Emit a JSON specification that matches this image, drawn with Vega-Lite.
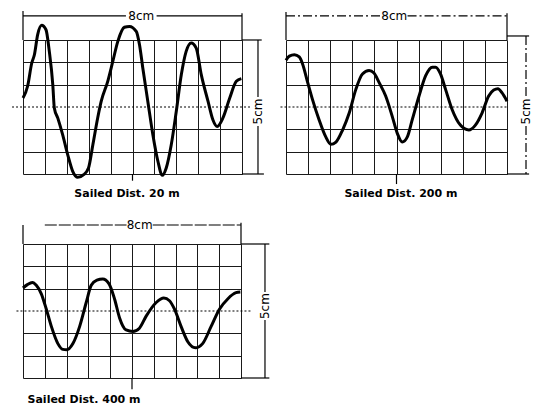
{
  "$schema": "https://vega.github.io/schema/vega-lite/v6.json",
  "background": "white",
  "padding": {"left": 11, "top": 9, "right": 0, "bottom": 0},
  "bounds": "flush",
  "columns": 2,
  "spacing": {"row": 70, "column": 44},
  "config": {
    "view": {"stroke": null},
    "axis": {"labels": false, "ticks": false, "domain": false, "grid": true, "gridColor": "#1a1a1a", "gridWidth": 1, "gridOpacity": 1},
    "text": {"font": "DejaVu Sans", "color": "black"}
  },
  "datasets": {
    "waves": [
      {"panel": 1, "x": 0, "y": 0.4}, {"panel": 1, "x": 0.21, "y": 0.93}, {"panel": 1, "x": 0.4, "y": 1.97}, {"panel": 1, "x": 0.52, "y": 2.34},
      {"panel": 1, "x": 0.67, "y": 3.24}, {"panel": 1, "x": 0.85, "y": 3.66}, {"panel": 1, "x": 1.05, "y": 3.46}, {"panel": 1, "x": 1.2, "y": 2.5},
      {"panel": 1, "x": 1.36, "y": 1.0}, {"panel": 1, "x": 1.43, "y": -0.04}, {"panel": 1, "x": 1.59, "y": -0.5}, {"panel": 1, "x": 1.81, "y": -1.24},
      {"panel": 1, "x": 2.04, "y": -2.13}, {"panel": 1, "x": 2.27, "y": -2.88}, {"panel": 1, "x": 2.5, "y": -3.15}, {"panel": 1, "x": 2.77, "y": -3.03},
      {"panel": 1, "x": 2.99, "y": -2.73}, {"panel": 1, "x": 3.19, "y": -1.69}, {"panel": 1, "x": 3.41, "y": -0.49}, {"panel": 1, "x": 3.57, "y": 0.25},
      {"panel": 1, "x": 3.87, "y": 1.15}, {"panel": 1, "x": 4.1, "y": 2.04}, {"panel": 1, "x": 4.33, "y": 2.94}, {"panel": 1, "x": 4.63, "y": 3.57},
      {"panel": 1, "x": 4.86, "y": 3.61}, {"panel": 1, "x": 5.17, "y": 3.39}, {"panel": 1, "x": 5.32, "y": 2.79}, {"panel": 1, "x": 5.47, "y": 1.75},
      {"panel": 1, "x": 5.7, "y": 0.25}, {"panel": 1, "x": 5.93, "y": -1.24}, {"panel": 1, "x": 6.16, "y": -2.43}, {"panel": 1, "x": 6.36, "y": -3.06},
      {"panel": 1, "x": 6.54, "y": -2.73}, {"panel": 1, "x": 6.77, "y": -1.69}, {"panel": 1, "x": 7.0, "y": -0.19}, {"panel": 1, "x": 7.23, "y": 1.45},
      {"panel": 1, "x": 7.45, "y": 2.49}, {"panel": 1, "x": 7.68, "y": 2.87}, {"panel": 1, "x": 7.91, "y": 2.64}, {"panel": 1, "x": 8.14, "y": 1.45},
      {"panel": 1, "x": 8.45, "y": 0.25}, {"panel": 1, "x": 8.67, "y": -0.57}, {"panel": 1, "x": 8.87, "y": -0.87}, {"panel": 1, "x": 9.13, "y": -0.49},
      {"panel": 1, "x": 9.44, "y": 0.4}, {"panel": 1, "x": 9.74, "y": 1.15}, {"panel": 1, "x": 9.97, "y": 1.27},

      {"panel": 2, "x": 0, "y": 2.09}, {"panel": 2, "x": 0.15, "y": 2.28}, {"panel": 2, "x": 0.38, "y": 2.34}, {"panel": 2, "x": 0.6, "y": 2.24},
      {"panel": 2, "x": 0.75, "y": 1.93}, {"panel": 2, "x": 0.98, "y": 1.1}, {"panel": 2, "x": 1.2, "y": 0.33}, {"panel": 2, "x": 1.5, "y": -0.58},
      {"panel": 2, "x": 1.8, "y": -1.34}, {"panel": 2, "x": 2.03, "y": -1.67}, {"panel": 2, "x": 2.26, "y": -1.57}, {"panel": 2, "x": 2.56, "y": -1.03},
      {"panel": 2, "x": 2.86, "y": -0.27}, {"panel": 2, "x": 3.16, "y": 0.79}, {"panel": 2, "x": 3.46, "y": 1.48}, {"panel": 2, "x": 3.76, "y": 1.63},
      {"panel": 2, "x": 3.98, "y": 1.52}, {"panel": 2, "x": 4.21, "y": 1.1}, {"panel": 2, "x": 4.51, "y": 0.49}, {"panel": 2, "x": 4.81, "y": -0.43},
      {"panel": 2, "x": 5.04, "y": -1.19}, {"panel": 2, "x": 5.26, "y": -1.57}, {"panel": 2, "x": 5.49, "y": -1.34}, {"panel": 2, "x": 5.71, "y": -0.58},
      {"panel": 2, "x": 6.02, "y": 0.49}, {"panel": 2, "x": 6.32, "y": 1.4}, {"panel": 2, "x": 6.62, "y": 1.78}, {"panel": 2, "x": 6.77, "y": 1.78},
      {"panel": 2, "x": 6.99, "y": 1.48}, {"panel": 2, "x": 7.22, "y": 0.79}, {"panel": 2, "x": 7.52, "y": -0.12}, {"panel": 2, "x": 7.89, "y": -0.81},
      {"panel": 2, "x": 8.27, "y": -1.03}, {"panel": 2, "x": 8.57, "y": -0.81}, {"panel": 2, "x": 8.87, "y": -0.27}, {"panel": 2, "x": 9.17, "y": 0.49},
      {"panel": 2, "x": 9.4, "y": 0.76}, {"panel": 2, "x": 9.59, "y": 0.82}, {"panel": 2, "x": 9.77, "y": 0.64}, {"panel": 2, "x": 10, "y": 0.26},

      {"panel": 3, "x": 0, "y": 1.03}, {"panel": 3, "x": 0.2, "y": 1.18}, {"panel": 3, "x": 0.43, "y": 1.28}, {"panel": 3, "x": 0.61, "y": 1.15},
      {"panel": 3, "x": 0.84, "y": 0.77}, {"panel": 3, "x": 1.07, "y": 0.08}, {"panel": 3, "x": 1.3, "y": -0.69}, {"panel": 3, "x": 1.6, "y": -1.46},
      {"panel": 3, "x": 1.83, "y": -1.72}, {"panel": 3, "x": 2.0, "y": -1.74}, {"panel": 3, "x": 2.29, "y": -1.46}, {"panel": 3, "x": 2.6, "y": -0.69},
      {"panel": 3, "x": 2.9, "y": 0.38}, {"panel": 3, "x": 3.13, "y": 1.15}, {"panel": 3, "x": 3.39, "y": 1.38}, {"panel": 3, "x": 3.66, "y": 1.43},
      {"panel": 3, "x": 3.94, "y": 1.23}, {"panel": 3, "x": 4.2, "y": 0.54}, {"panel": 3, "x": 4.43, "y": -0.31}, {"panel": 3, "x": 4.73, "y": -0.85},
      {"panel": 3, "x": 5.04, "y": -0.92}, {"panel": 3, "x": 5.34, "y": -0.77}, {"panel": 3, "x": 5.65, "y": -0.23}, {"panel": 3, "x": 6.11, "y": 0.38},
      {"panel": 3, "x": 6.46, "y": 0.58}, {"panel": 3, "x": 6.72, "y": 0.46}, {"panel": 3, "x": 6.95, "y": 0.08}, {"panel": 3, "x": 7.25, "y": -0.69},
      {"panel": 3, "x": 7.56, "y": -1.38}, {"panel": 3, "x": 7.91, "y": -1.65}, {"panel": 3, "x": 8.24, "y": -1.46}, {"panel": 3, "x": 8.63, "y": -0.69},
      {"panel": 3, "x": 9.01, "y": 0.08}, {"panel": 3, "x": 9.39, "y": 0.54}, {"panel": 3, "x": 9.77, "y": 0.82}, {"panel": 3, "x": 9.97, "y": 0.85}
    ],
    "segs": [
      {"panel": 1, "kind": "solid", "x": 0, "x2": 0, "y": 3, "y2": 4.3},
      {"panel": 1, "kind": "solid", "x": 10, "x2": 10, "y": 3, "y2": 4.2},
      {"panel": 1, "kind": "solid", "x": 10, "x2": 10.9, "y": 3, "y2": 3},
      {"panel": 1, "kind": "solid", "x": 10, "x2": 11.0, "y": -3, "y2": -3},
      {"panel": 1, "kind": "solid", "x": 10.73, "x2": 10.73, "y": 3, "y2": 0.45},
      {"panel": 1, "kind": "solid", "x": 10.73, "x2": 10.73, "y": -0.85, "y2": -3},
      {"panel": 1, "kind": "solid", "x": 5, "x2": 5, "y": -3, "y2": -3.3},
      {"panel": 1, "kind": "solid", "x": 0, "x2": 4.7, "y": 4.08, "y2": 4.08},
      {"panel": 1, "kind": "solid", "x": 6.1, "x2": 10, "y": 4.08, "y2": 4.08},
      {"panel": 1, "kind": "dot", "x": -0.5, "x2": 10.4, "y": 0, "y2": 0},

      {"panel": 2, "kind": "solid", "x": 0, "x2": 0, "y": 3, "y2": 4.25},
      {"panel": 2, "kind": "solid", "x": 10, "x2": 10, "y": 3, "y2": 4.2},
      {"panel": 2, "kind": "solid", "x": 10, "x2": 11.0, "y": 3.18, "y2": 3.18},
      {"panel": 2, "kind": "solid", "x": 10, "x2": 11.0, "y": -3, "y2": -3},
      {"panel": 2, "kind": "solid", "x": 5, "x2": 5, "y": -3, "y2": -3.45},
      {"panel": 2, "kind": "dash", "x": 0, "x2": 4.3, "y": 4.08, "y2": 4.08},
      {"panel": 2, "kind": "dash", "x": 5.5, "x2": 10, "y": 4.08, "y2": 4.08},
      {"panel": 2, "kind": "dash", "x": 10.86, "x2": 10.86, "y": 3.18, "y2": 0.45},
      {"panel": 2, "kind": "dash", "x": 10.86, "x2": 10.86, "y": -0.85, "y2": -3},
      {"panel": 2, "kind": "dot", "x": -0.25, "x2": 10, "y": 0, "y2": 0},

      {"panel": 3, "kind": "solid", "x": 0, "x2": 0, "y": 3, "y2": 3.85},
      {"panel": 3, "kind": "solid", "x": 10, "x2": 10, "y": 3, "y2": 3.95},
      {"panel": 3, "kind": "solid", "x": 10, "x2": 11.3, "y": 3, "y2": 3},
      {"panel": 3, "kind": "solid", "x": 10, "x2": 11.3, "y": -3, "y2": -3},
      {"panel": 3, "kind": "solid", "x": 11.1, "x2": 11.1, "y": 3, "y2": 0.85},
      {"panel": 3, "kind": "solid", "x": 11.1, "x2": 11.1, "y": -0.4, "y2": -3},
      {"panel": 3, "kind": "solid", "x": 5, "x2": 5, "y": -3, "y2": -3.5},
      {"panel": 3, "kind": "dash", "x": 1.0, "x2": 4.75, "y": 3.85, "y2": 3.85},
      {"panel": 3, "kind": "dash", "x": 5.95, "x2": 10, "y": 3.85, "y2": 3.85},
      {"panel": 3, "kind": "dot", "x": -0.3, "x2": 10.45, "y": 0, "y2": 0}
    ],
    "labels": [
      {"panel": 1, "kind": "dim", "text": "8cm", "x": 5.4, "y": 4.08},
      {"panel": 1, "kind": "dimv", "text": "5cm", "x": 10.73, "y": -0.2},
      {"panel": 1, "kind": "title", "text": "Sailed  Dist. 20 m", "x": 4.75, "y": -3.9},
      {"panel": 2, "kind": "dim", "text": "8cm", "x": 4.9, "y": 4.08},
      {"panel": 2, "kind": "dimv", "text": "5cm", "x": 10.86, "y": -0.2},
      {"panel": 2, "kind": "title", "text": "Sailed  Dist. 200 m", "x": 5.2, "y": -3.9},
      {"panel": 3, "kind": "dim", "text": "8cm", "x": 5.35, "y": 3.85},
      {"panel": 3, "kind": "dimv", "text": "5cm", "x": 11.1, "y": 0.22},
      {"panel": 3, "kind": "title", "text": "Sailed  Dist. 400 m", "x": 2.8, "y": -4.0}
    ]
  },
  "concat": [
    {
      "width": 219, "height": 134,
      "layer": [
        {"data": {"name": "waves"}, "transform": [{"filter": "datum.panel == 1"}],
         "mark": {"type": "line", "interpolate": "monotone", "strokeWidth": 3, "color": "black"},
         "encoding": {
           "x": {"field": "x", "type": "quantitative", "scale": {"domain": [0, 10], "nice": false, "zero": false}, "axis": {"values": [0,1,2,3,4,5,6,7,8,9,10], "title": null, "grid": true}},
           "y": {"field": "y", "type": "quantitative", "scale": {"domain": [-3, 3], "nice": false, "zero": false}, "axis": {"values": [-3,-2,-1,1,2,3], "title": null, "grid": true}}
         }},
        {"data": {"name": "segs"}, "transform": [{"filter": "datum.panel == 1 && datum.kind == 'solid'"}],
         "mark": {"type": "rule", "color": "black", "strokeWidth": 1.2},
         "encoding": {"x": {"field": "x", "type": "quantitative", "axis": {"values": [0,1,2,3,4,5,6,7,8,9,10], "title": null, "grid": true}}, "x2": {"field": "x2"}, "y": {"field": "y", "type": "quantitative", "axis": {"values": [-3,-2,-1,1,2,3], "title": null, "grid": true}}, "y2": {"field": "y2"}}},
        {"data": {"name": "segs"}, "transform": [{"filter": "datum.panel == 1 && datum.kind == 'dot'"}],
         "mark": {"type": "rule", "color": "black", "strokeWidth": 1.2, "strokeDash": [2, 2]},
         "encoding": {"x": {"field": "x", "type": "quantitative", "axis": {"values": [0,1,2,3,4,5,6,7,8,9,10], "title": null, "grid": true}}, "x2": {"field": "x2"}, "y": {"field": "y", "type": "quantitative", "axis": {"values": [-3,-2,-1,1,2,3], "title": null, "grid": true}}, "y2": {"field": "y2"}}},
        {"data": {"name": "labels"}, "transform": [{"filter": "datum.panel == 1 && datum.kind == 'dim'"}],
         "mark": {"type": "text", "fontSize": 12, "align": "center", "baseline": "middle"},
         "encoding": {"x": {"field": "x", "type": "quantitative", "axis": {"values": [0,1,2,3,4,5,6,7,8,9,10], "title": null, "grid": true}}, "y": {"field": "y", "type": "quantitative", "axis": {"values": [-3,-2,-1,1,2,3], "title": null, "grid": true}}, "text": {"field": "text"}}},
        {"data": {"name": "labels"}, "transform": [{"filter": "datum.panel == 1 && datum.kind == 'dimv'"}],
         "mark": {"type": "text", "fontSize": 12, "align": "center", "baseline": "middle", "angle": 270},
         "encoding": {"x": {"field": "x", "type": "quantitative", "axis": {"values": [0,1,2,3,4,5,6,7,8,9,10], "title": null, "grid": true}}, "y": {"field": "y", "type": "quantitative", "axis": {"values": [-3,-2,-1,1,2,3], "title": null, "grid": true}}, "text": {"field": "text"}}},
        {"data": {"name": "labels"}, "transform": [{"filter": "datum.panel == 1 && datum.kind == 'title'"}],
         "mark": {"type": "text", "fontSize": 11, "fontWeight": "bold", "align": "center", "baseline": "middle"},
         "encoding": {"x": {"field": "x", "type": "quantitative", "axis": {"values": [0,1,2,3,4,5,6,7,8,9,10], "title": null, "grid": true}}, "y": {"field": "y", "type": "quantitative", "axis": {"values": [-3,-2,-1,1,2,3], "title": null, "grid": true}}, "text": {"field": "text"}}}
      ]
    },
    {
      "width": 221, "height": 134,
      "layer": [
        {"data": {"name": "waves"}, "transform": [{"filter": "datum.panel == 2"}],
         "mark": {"type": "line", "interpolate": "monotone", "strokeWidth": 3, "color": "black"},
         "encoding": {
           "x": {"field": "x", "type": "quantitative", "scale": {"domain": [0, 10], "nice": false, "zero": false}, "axis": {"values": [0,1,2,3,4,5,6,7,8,9,10], "title": null, "grid": true}},
           "y": {"field": "y", "type": "quantitative", "scale": {"domain": [-3, 3], "nice": false, "zero": false}, "axis": {"values": [-3,-2,-1,1,2,3], "title": null, "grid": true}}
         }},
        {"data": {"name": "segs"}, "transform": [{"filter": "datum.panel == 2 && datum.kind == 'solid'"}],
         "mark": {"type": "rule", "color": "black", "strokeWidth": 1.2},
         "encoding": {"x": {"field": "x", "type": "quantitative", "axis": {"values": [0,1,2,3,4,5,6,7,8,9,10], "title": null, "grid": true}}, "x2": {"field": "x2"}, "y": {"field": "y", "type": "quantitative", "axis": {"values": [-3,-2,-1,1,2,3], "title": null, "grid": true}}, "y2": {"field": "y2"}}},
        {"data": {"name": "segs"}, "transform": [{"filter": "datum.panel == 2 && datum.kind == 'dash'"}],
         "mark": {"type": "rule", "color": "black", "strokeWidth": 1.2, "strokeDash": [9, 3, 2, 3]},
         "encoding": {"x": {"field": "x", "type": "quantitative", "axis": {"values": [0,1,2,3,4,5,6,7,8,9,10], "title": null, "grid": true}}, "x2": {"field": "x2"}, "y": {"field": "y", "type": "quantitative", "axis": {"values": [-3,-2,-1,1,2,3], "title": null, "grid": true}}, "y2": {"field": "y2"}}},
        {"data": {"name": "segs"}, "transform": [{"filter": "datum.panel == 2 && datum.kind == 'dot'"}],
         "mark": {"type": "rule", "color": "black", "strokeWidth": 1.2, "strokeDash": [2, 2]},
         "encoding": {"x": {"field": "x", "type": "quantitative", "axis": {"values": [0,1,2,3,4,5,6,7,8,9,10], "title": null, "grid": true}}, "x2": {"field": "x2"}, "y": {"field": "y", "type": "quantitative", "axis": {"values": [-3,-2,-1,1,2,3], "title": null, "grid": true}}, "y2": {"field": "y2"}}},
        {"data": {"name": "labels"}, "transform": [{"filter": "datum.panel == 2 && datum.kind == 'dim'"}],
         "mark": {"type": "text", "fontSize": 12, "align": "center", "baseline": "middle"},
         "encoding": {"x": {"field": "x", "type": "quantitative", "axis": {"values": [0,1,2,3,4,5,6,7,8,9,10], "title": null, "grid": true}}, "y": {"field": "y", "type": "quantitative", "axis": {"values": [-3,-2,-1,1,2,3], "title": null, "grid": true}}, "text": {"field": "text"}}},
        {"data": {"name": "labels"}, "transform": [{"filter": "datum.panel == 2 && datum.kind == 'dimv'"}],
         "mark": {"type": "text", "fontSize": 12, "align": "center", "baseline": "middle", "angle": 270},
         "encoding": {"x": {"field": "x", "type": "quantitative", "axis": {"values": [0,1,2,3,4,5,6,7,8,9,10], "title": null, "grid": true}}, "y": {"field": "y", "type": "quantitative", "axis": {"values": [-3,-2,-1,1,2,3], "title": null, "grid": true}}, "text": {"field": "text"}}},
        {"data": {"name": "labels"}, "transform": [{"filter": "datum.panel == 2 && datum.kind == 'title'"}],
         "mark": {"type": "text", "fontSize": 11, "fontWeight": "bold", "align": "center", "baseline": "middle"},
         "encoding": {"x": {"field": "x", "type": "quantitative", "axis": {"values": [0,1,2,3,4,5,6,7,8,9,10], "title": null, "grid": true}}, "y": {"field": "y", "type": "quantitative", "axis": {"values": [-3,-2,-1,1,2,3], "title": null, "grid": true}}, "text": {"field": "text"}}}
      ]
    },
    {
      "width": 218, "height": 134,
      "layer": [
        {"data": {"name": "waves"}, "transform": [{"filter": "datum.panel == 3"}],
         "mark": {"type": "line", "interpolate": "monotone", "strokeWidth": 3, "color": "black"},
         "encoding": {
           "x": {"field": "x", "type": "quantitative", "scale": {"domain": [0, 10], "nice": false, "zero": false}, "axis": {"values": [0,1,2,3,4,5,6,7,8,9,10], "title": null, "grid": true}},
           "y": {"field": "y", "type": "quantitative", "scale": {"domain": [-3, 3], "nice": false, "zero": false}, "axis": {"values": [-3,-2,-1,1,2,3], "title": null, "grid": true}}
         }},
        {"data": {"name": "segs"}, "transform": [{"filter": "datum.panel == 3 && datum.kind == 'solid'"}],
         "mark": {"type": "rule", "color": "black", "strokeWidth": 1.2},
         "encoding": {"x": {"field": "x", "type": "quantitative", "axis": {"values": [0,1,2,3,4,5,6,7,8,9,10], "title": null, "grid": true}}, "x2": {"field": "x2"}, "y": {"field": "y", "type": "quantitative", "axis": {"values": [-3,-2,-1,1,2,3], "title": null, "grid": true}}, "y2": {"field": "y2"}}},
        {"data": {"name": "segs"}, "transform": [{"filter": "datum.panel == 3 && datum.kind == 'dash'"}],
         "mark": {"type": "rule", "color": "black", "strokeWidth": 1.2, "strokeDash": [12, 2]},
         "encoding": {"x": {"field": "x", "type": "quantitative", "axis": {"values": [0,1,2,3,4,5,6,7,8,9,10], "title": null, "grid": true}}, "x2": {"field": "x2"}, "y": {"field": "y", "type": "quantitative", "axis": {"values": [-3,-2,-1,1,2,3], "title": null, "grid": true}}, "y2": {"field": "y2"}}},
        {"data": {"name": "segs"}, "transform": [{"filter": "datum.panel == 3 && datum.kind == 'dot'"}],
         "mark": {"type": "rule", "color": "black", "strokeWidth": 1.2, "strokeDash": [2, 2]},
         "encoding": {"x": {"field": "x", "type": "quantitative", "axis": {"values": [0,1,2,3,4,5,6,7,8,9,10], "title": null, "grid": true}}, "x2": {"field": "x2"}, "y": {"field": "y", "type": "quantitative", "axis": {"values": [-3,-2,-1,1,2,3], "title": null, "grid": true}}, "y2": {"field": "y2"}}},
        {"data": {"name": "labels"}, "transform": [{"filter": "datum.panel == 3 && datum.kind == 'dim'"}],
         "mark": {"type": "text", "fontSize": 12, "align": "center", "baseline": "middle"},
         "encoding": {"x": {"field": "x", "type": "quantitative", "axis": {"values": [0,1,2,3,4,5,6,7,8,9,10], "title": null, "grid": true}}, "y": {"field": "y", "type": "quantitative", "axis": {"values": [-3,-2,-1,1,2,3], "title": null, "grid": true}}, "text": {"field": "text"}}},
        {"data": {"name": "labels"}, "transform": [{"filter": "datum.panel == 3 && datum.kind == 'dimv'"}],
         "mark": {"type": "text", "fontSize": 12, "align": "center", "baseline": "middle", "angle": 270},
         "encoding": {"x": {"field": "x", "type": "quantitative", "axis": {"values": [0,1,2,3,4,5,6,7,8,9,10], "title": null, "grid": true}}, "y": {"field": "y", "type": "quantitative", "axis": {"values": [-3,-2,-1,1,2,3], "title": null, "grid": true}}, "text": {"field": "text"}}},
        {"data": {"name": "labels"}, "transform": [{"filter": "datum.panel == 3 && datum.kind == 'title'"}],
         "mark": {"type": "text", "fontSize": 11, "fontWeight": "bold", "align": "center", "baseline": "middle"},
         "encoding": {"x": {"field": "x", "type": "quantitative", "axis": {"values": [0,1,2,3,4,5,6,7,8,9,10], "title": null, "grid": true}}, "y": {"field": "y", "type": "quantitative", "axis": {"values": [-3,-2,-1,1,2,3], "title": null, "grid": true}}, "text": {"field": "text"}}}
      ]
    }
  ]
}
